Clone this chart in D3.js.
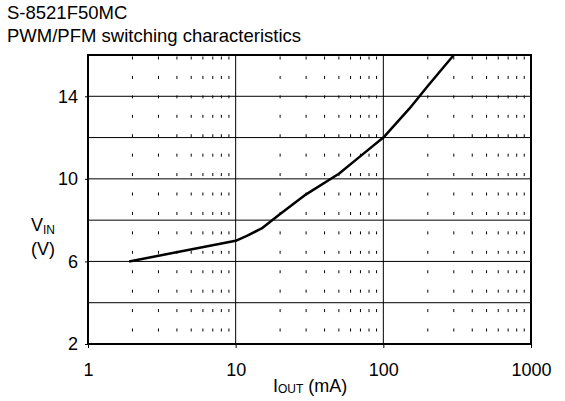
<!DOCTYPE html>
<html>
<head>
<meta charset="utf-8">
<script src="https://cdn.jsdelivr.net/npm/d3@7"></script>
<style>
  body { margin: 0; background: #fff; }
  text { font-family: "Liberation Sans", Arial, sans-serif; fill: #000; }
</style>
</head>
<body>
<div class="chart"></div>
<script>
// data
var iout = [1.9, 10, 12, 15, 20, 30, 50, 70, 100, 150, 200, 300];
var vin = [6.0, 7.0, 7.25, 7.6, 8.3, 9.25, 10.25, 11.1, 12.0, 13.4, 14.5, 16.0];
var xTicks = [1, 10, 100, 1000];
var yTicks = [2, 6, 10, 14];
var yGrid = [4, 6, 8, 10, 12, 14];
var titleLines = ["S-8521F50MC", "PWM/PFM switching characteristics"];

var svgWidth = 565;
var svgHeight = 401;

var margin = {
    top: 55,
    right: 34,
    bottom: 57,
    left: 88
};

var width = svgWidth - margin.left - margin.right;
var height = svgHeight - margin.top - margin.bottom;

var svg = d3.select(".chart")
    .append("svg")
    .attr("width", svgWidth)
    .attr("height", svgHeight);

// title
svg.selectAll(".title")
    .data(titleLines)
    .enter()
    .append("text")
    .attr("class", "title")
    .attr("x", 7)
    .attr("y", (d, i) => 19 + i * 23)
    .attr("font-size", "18.5px")
    .text(d => d);

var chartGroup = svg.append("g")
    .attr("transform", `translate(${margin.left}, ${margin.top})`);

var xScale = d3.scaleLog()
    .domain([1, 1000])
    .range([0, width]);

var yScale = d3.scaleLinear()
    .domain([2, 16])
    .range([height, 0]);

// minor dashed verticals (2..9 of each decade)
var minor = [];
xTicks.slice(0, -1).forEach(function (dec) {
    for (var k = 2; k <= 9; k++) minor.push(dec * k);
});

chartGroup.selectAll(".minor")
    .data(minor)
    .enter()
    .append("line")
    .attr("class", "minor")
    .attr("x1", d => xScale(d))
    .attr("x2", d => xScale(d))
    .attr("y1", 1.5)
    .attr("y2", height)
    .attr("stroke", "#000")
    .attr("stroke-width", 1)
    .attr("stroke-dasharray", "3,16.43");

// horizontal grid
chartGroup.selectAll(".hgrid")
    .data(yGrid)
    .enter()
    .append("line")
    .attr("class", "hgrid")
    .attr("x1", 0)
    .attr("x2", width)
    .attr("y1", d => yScale(d))
    .attr("y2", d => yScale(d))
    .attr("stroke", "#000")
    .attr("stroke-width", 1);

// vertical grid at decades
chartGroup.selectAll(".vgrid")
    .data(xTicks.slice(1, -1))
    .enter()
    .append("line")
    .attr("class", "vgrid")
    .attr("x1", d => xScale(d))
    .attr("x2", d => xScale(d))
    .attr("y1", 0)
    .attr("y2", height)
    .attr("stroke", "#000")
    .attr("stroke-width", 1);

// axes
var bottomAxis = d3.axisBottom(xScale)
    .tickValues(xTicks)
    .tickFormat(d3.format("d"))
    .tickSize(4)
    .tickPadding(15);

var leftAxis = d3.axisLeft(yScale)
    .tickValues(yTicks)
    .tickSize(3)
    .tickPadding(7);

var xAxisG = chartGroup.append("g")
    .attr("transform", `translate(0, ${height})`)
    .call(bottomAxis);

var yAxisG = chartGroup.append("g")
    .call(leftAxis);

[xAxisG, yAxisG].forEach(function (g) {
    g.select(".domain").remove();
    g.selectAll(".tick line").attr("stroke", "#000");
    g.selectAll(".tick text")
        .attr("font-size", "18px")
        .attr("font-family", "'Liberation Sans', Arial, sans-serif")
        .attr("fill", "#000");
});

// frame
chartGroup.append("rect")
    .attr("x", 0)
    .attr("y", 0)
    .attr("width", width)
    .attr("height", height)
    .attr("fill", "none")
    .attr("stroke", "#000")
    .attr("stroke-width", 2);

// curve
var pts = iout.map((d, i) => [d, vin[i]]);
var line = d3.line()
    .x(d => xScale(d[0]))
    .y(d => yScale(d[1]));

chartGroup.append("path")
    .datum(pts)
    .attr("d", line)
    .attr("fill", "none")
    .attr("stroke", "#000")
    .attr("stroke-width", 2.5)
    .attr("stroke-linejoin", "round");

// axis labels
var yLab = svg.append("text")
    .attr("x", 31)
    .attr("y", 231)
    .attr("font-size", "18px");
yLab.append("tspan").text("V");
yLab.append("tspan").attr("font-size", "12px").attr("dy", 3).text("IN");

svg.append("text")
    .attr("x", 31)
    .attr("y", 255)
    .attr("font-size", "18px")
    .text("(V)");

var xLab = svg.append("text")
    .attr("x", 273)
    .attr("y", 392)
    .attr("font-size", "18px");
xLab.append("tspan").text("I");
xLab.append("tspan").attr("font-size", "12px").attr("dy", 1).text("OUT");
xLab.append("tspan").attr("dy", -1).text(" (mA)");
</script>
</body>
</html>
